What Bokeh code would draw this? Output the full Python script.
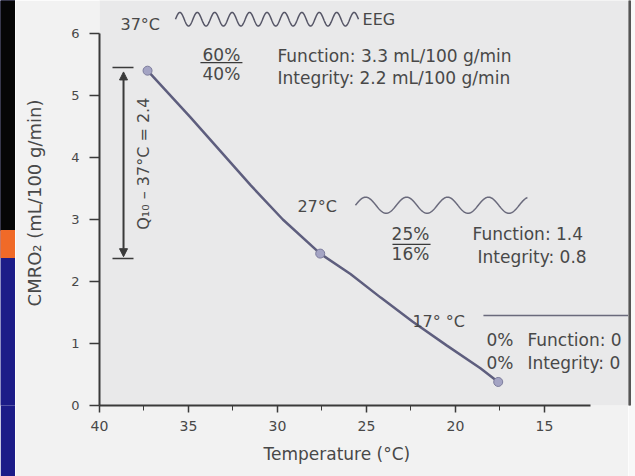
import numpy as np
from bokeh.plotting import figure
from bokeh.models import Range1d, Label, Title, Arrow, NormalHead, FixedTicker
from bokeh.layouts import row
from bokeh.embed import file_html
from bokeh.resources import INLINE

# ---- data ----
temperature = [37.3, 34.9, 31.5, 29.7, 27.6, 25.9, 24.2, 22.4, 20.5, 18.6, 17.6]
cmro2 = [5.40, 4.65, 3.55, 3.00, 2.45, 2.12, 1.74, 1.35, 0.97, 0.60, 0.38]
marked_temperature = [37.3, 27.6, 17.6]
marked_cmro2 = [5.40, 2.45, 0.38]
x_ticks = [40, 35, 30, 25, 20, 15]
x_minor_ticks = [37.5, 32.5, 27.5, 22.5, 17.5]
y_ticks = [0, 1, 2, 3, 4, 5, 6]
x_label = "Temperature (°C)"
y_label = "CMRO₂ (mL/100 g/min)"

FONT = "DejaVu Sans"
INK = "#3a3a3a"
TXT = "#484848"
ASIZE = "17px"


def wave(x0, x1, yc, amp, cycles, n=500):
    t = np.linspace(0, 1, n)
    return x0 + (x1 - x0) * t, yc + amp * np.sin(2 * np.pi * cycles * t)


def strip(width, bg, border):
    f = figure(width=width, height=476, x_range=Range1d(0, width), y_range=Range1d(405, 0),
               min_border_left=0, min_border_right=0, min_border_top=0, min_border_bottom=71,
               toolbar_location=None, output_backend="svg",
               x_axis_location=None, y_axis_location=None,
               background_fill_color=bg, border_fill_color=border,
               outline_line_color=None)
    f.grid.visible = False
    return f


# ---- left decorative strip ----
s = strip(15, "#1c1c88", "#1c1c88")
s.quad(left=0, right=15, top=0, bottom=230, color="#060606")
s.quad(left=0, right=15, top=230, bottom=257, color="#f06a28")

# ---- right decorative strip ----
r = strip(7, "#f8f8f8", "#f8f8f8")
r.quad(left=0, right=2, top=0, bottom=405, color="#555555")

# ---- main chart ----
p = figure(width=613, height=476, x_range=Range1d(40, 10.28), y_range=Range1d(0, 6.532),
           output_backend="svg", toolbar_location=None,
           min_border_left=84, min_border_right=0, min_border_top=0, min_border_bottom=71,
           background_fill_color="#e9e9ea", border_fill_color="#f2f2f2",
           outline_line_color=None)
p.grid.visible = False

xa = p.xaxis[0]
xa.ticker = FixedTicker(ticks=x_ticks, minor_ticks=x_minor_ticks)
xa.bounds = (12.4, 40)
xa.axis_line_color = INK
xa.axis_line_width = 2
xa.major_tick_line_color = INK
xa.major_tick_line_width = 1.5
xa.major_tick_in = 0
xa.major_tick_out = 7
xa.minor_tick_line_color = INK
xa.minor_tick_in = 0
xa.minor_tick_out = 5
xa.major_label_text_font = FONT
xa.major_label_text_font_size = "14px"
xa.major_label_text_color = TXT
xa.major_label_standoff = 8

ya = p.yaxis[0]
ya.ticker = FixedTicker(ticks=y_ticks)
ya.bounds = (0, 6)
ya.axis_line_color = INK
ya.axis_line_width = 2
ya.major_tick_line_color = INK
ya.major_tick_line_width = 1.5
ya.major_tick_in = 0
ya.major_tick_out = 10
ya.minor_tick_line_color = None
ya.major_label_text_font = FONT
ya.major_label_text_font_size = "13px"
ya.major_label_text_color = TXT
ya.major_label_standoff = 10
ya.axis_label = y_label
ya.axis_label_text_font = FONT
ya.axis_label_text_font_size = "18px"
ya.axis_label_text_font_style = "normal"
ya.axis_label_text_color = TXT
ya.axis_label_standoff = 23

p.add_layout(Title(text=x_label, align="left", offset=164, text_font=FONT,
                   text_font_size=ASIZE, text_font_style="normal",
                   text_color=TXT, standoff=17), "below")

# curve and markers
p.line(temperature, cmro2, line_color="#5e5e7e", line_width=2.5)
p.scatter(marked_temperature, marked_cmro2, size=9, fill_color="#a4a4c4",
          line_color="#7c7c9c", line_width=1)


def lab(x, y, text, align="left", size=ASIZE, angle=0):
    p.add_layout(Label(x=x, y=y, text=text, text_align=align, text_baseline="middle",
                       text_font=FONT, text_font_size=size, text_color=TXT,
                       angle=angle, angle_units="deg"))


# 37 °C block
lab(38.82, 6.15, "37°C", size="16px")
wx, wy = wave(35.73, 25.45, 6.23, 0.11, 10.5)
p.line(wx, wy, line_color="#555566", line_width=1.5)
lab(25.22, 6.23, "EEG", size="16px")
lab(33.15, 5.65, "60%", align="center")
p.segment(x0=34.33, y0=5.53, x1=31.97, y1=5.53, line_color=INK, line_width=1.2)
lab(33.15, 5.34, "40%", align="center")
lab(30.0, 5.63, "Function: 3.3 mL/100 g/min")
lab(30.0, 5.29, "Integrity: 2.2 mL/100 g/min")

# Q10 arrow
p.add_layout(Arrow(start=NormalHead(size=8, fill_color=INK, line_color=INK),
                   end=NormalHead(size=8, fill_color=INK, line_color=INK),
                   x_start=38.65, y_start=5.38, x_end=38.65, y_end=2.40,
                   line_color=INK, line_width=2))
p.segment(x0=[39.27, 39.27], y0=[5.45, 2.37], x1=[38.09, 38.09], y1=[5.45, 2.37],
          line_color=INK, line_width=1.5)
lab(37.53, 3.90, "Q₁₀ – 37°C = 2.4", align="center", size="16px", angle=90)

# 27 °C block
lab(28.88, 3.21, "27°C", size="16px")
wx2, wy2 = wave(25.62, 15.96, 3.23, 0.13, 4.2)
p.line(wx2, wy2, line_color="#6a6a7c", line_width=1.5)
lab(22.53, 2.77, "25%", align="center")
p.segment(x0=23.54, y0=2.60, x1=21.40, y1=2.60, line_color=INK, line_width=1.2)
lab(22.53, 2.44, "16%", align="center")
lab(19.04, 2.77, "Function: 1.4")
lab(18.76, 2.40, "Integrity: 0.8")

# 17 °C block
lab(22.42, 1.36, "17°  °C", size="16px")
p.segment(x0=18.43, y0=1.45, x1=10.28, y1=1.45, line_color="#6a6a7c", line_width=1.5)
lab(18.26, 1.05, "0%")
lab(15.96, 1.05, "Function: 0")
lab(18.26, 0.69, "0%")
lab(15.96, 0.69, "Integrity: 0")

layout = row(s, p, r)
open("out.html", "w").write(file_html(layout, INLINE))
